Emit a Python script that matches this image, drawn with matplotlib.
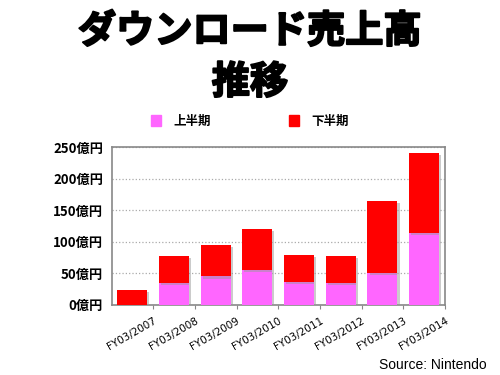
import matplotlib
matplotlib.use('Agg')
import matplotlib.pyplot as plt
import matplotlib.patheffects as pe
from matplotlib.patches import Patch
import numpy as np

plt.rcParams['font.family'] = ['Noto Sans CJK JP', 'DejaVu Sans']

# Values (億円)
years = ['FY03/2007', 'FY03/2008', 'FY03/2009', 'FY03/2010',
         'FY03/2011', 'FY03/2012', 'FY03/2013', 'FY03/2014']
first_half = [0, 35, 45, 56, 37, 34, 51, 114]
second_half = [23, 42.5, 50.5, 63.5, 42.5, 43.5, 113, 126.5]
y_ticks = [0, 50, 100, 150, 200, 250]
y_labels = [f'{v}億円' for v in y_ticks]

PINK = '#FF66FF'
RED = '#FF0000'

fig = plt.figure(figsize=(5, 3.75), dpi=100)
ax = fig.add_axes([0.223, 0.187, 0.667, 0.421])

x = np.arange(len(years))
shadow = [pe.SimplePatchShadow(offset=(1.5, -1.5), shadow_rgbFace='#999999', alpha=0.5), pe.Normal()]
b1 = ax.bar(x, first_half, width=0.72, color=PINK, zorder=3)
b2 = ax.bar(x, second_half, width=0.72, bottom=first_half, color=RED, zorder=3)
for b in list(b1) + list(b2):
    b.set_path_effects(shadow)

ax.set_xlim(-0.5, len(years) - 0.5)
ax.set_ylim(0, 250)
ax.set_yticks(y_ticks)
ax.set_yticklabels(y_labels, fontsize=9.5, fontweight='bold')
ax.tick_params(axis='y', length=0, pad=6)

# category labels sit at the slot boundaries, rotated
ax.set_xticks(x + 0.5)
ax.set_xticklabels(years, rotation=30, ha='right', rotation_mode='anchor',
                   fontsize=7.5, family=['DejaVu Sans'])
ax.tick_params(axis='x', length=3, color='#888888', pad=5)

ax.grid(axis='y', linestyle=':', color='#aaaaaa', linewidth=0.9, zorder=0)
for s in ax.spines.values():
    s.set_color('#888888')
    s.set_linewidth(1.2)

title_fx = [pe.withStroke(linewidth=1.4, foreground='black')]
fig.text(0.5, 0.917, 'ダウンロード売上高', ha='center', va='center',
         fontsize=27.5, fontweight='bold', path_effects=title_fx)
fig.text(0.5, 0.781, '推移', ha='center', va='center',
         fontsize=27.5, fontweight='bold', path_effects=title_fx)

handles = [Patch(color=PINK, label='上半期'), Patch(color=RED, label='下半期')]
fig.legend(handles=handles, loc='center', bbox_to_anchor=(0.5, 0.677), ncol=2,
           frameon=False, prop={'size': 9, 'weight': 'bold'},
           handlelength=0.8, handleheight=1.0, handletextpad=1.0, columnspacing=6.2)

fig.text(0.974, 0.027, 'Source: Nintendo', ha='right', va='center',
         fontsize=10, family=['Liberation Sans'])

fig.savefig('out.png', dpi=100)
